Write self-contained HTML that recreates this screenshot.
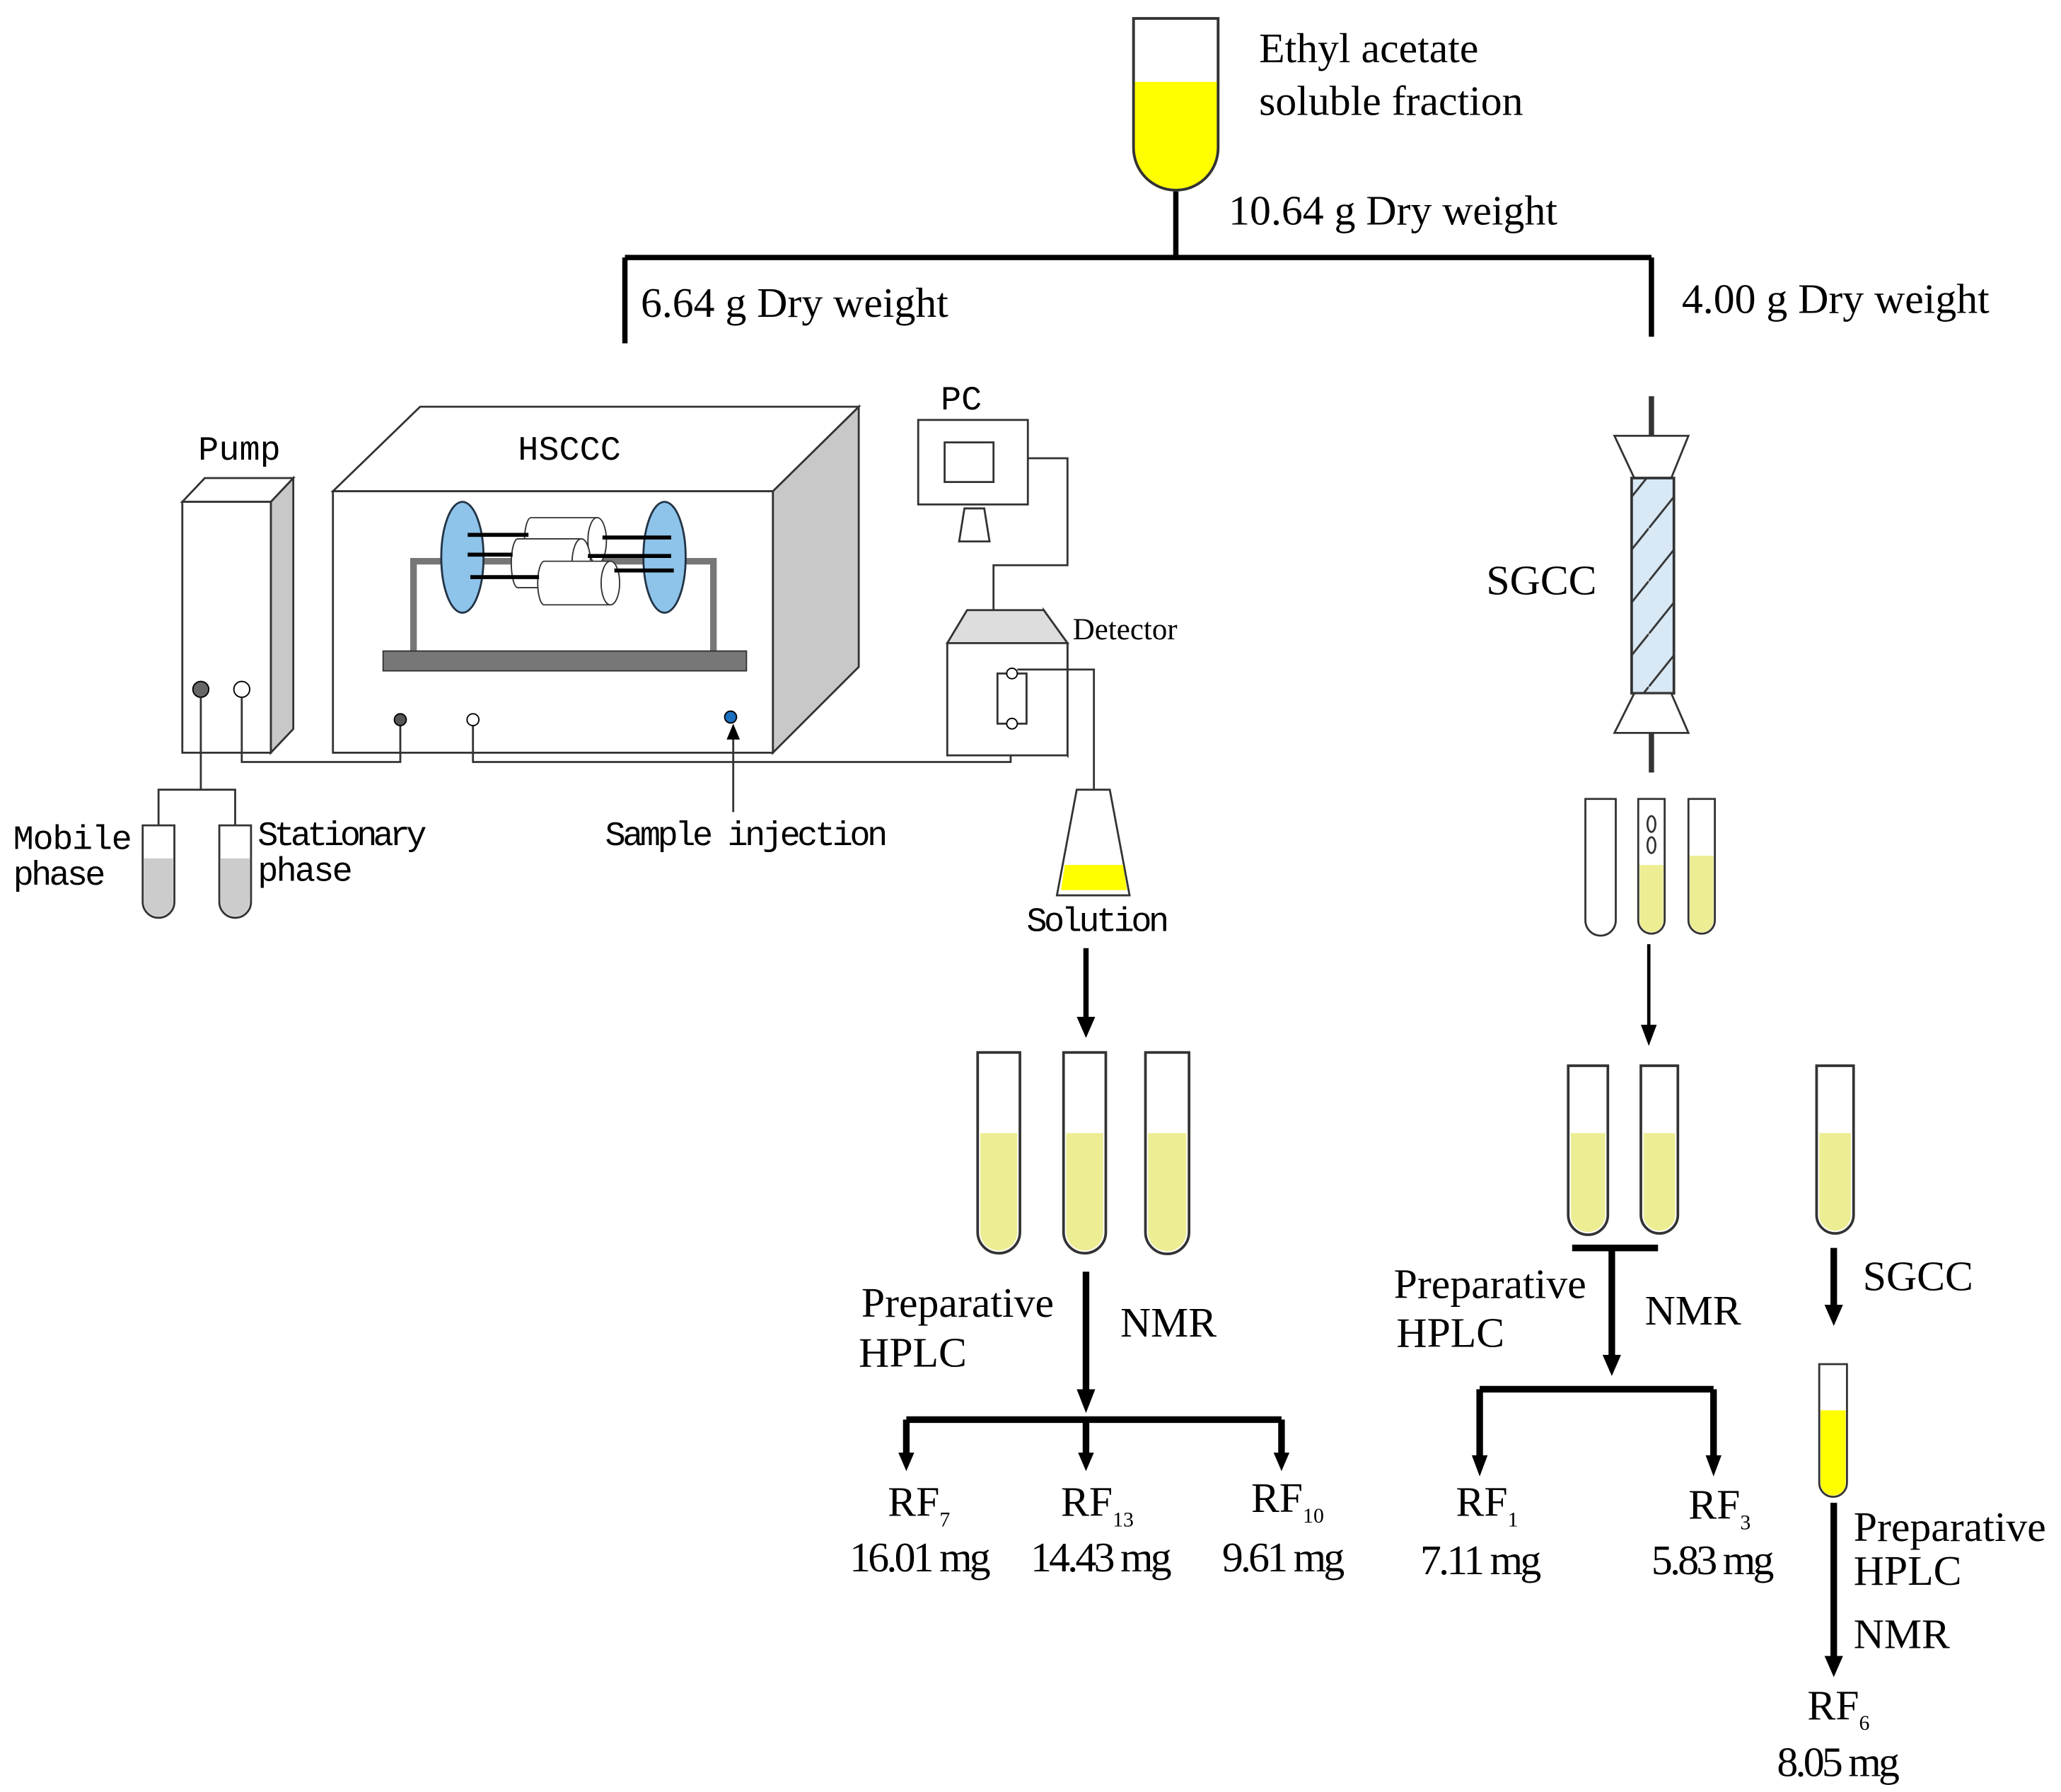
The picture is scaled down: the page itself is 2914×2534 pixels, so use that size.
<!DOCTYPE html>
<html><head><meta charset="utf-8"><style>
html,body{margin:0;padding:0;background:#fff;}
svg{display:block;}
text{font-family:"Liberation Serif",serif;fill:#000;}
.m{font-family:"Liberation Mono",monospace;}
</style></head><body>
<svg width="2914" height="2534" viewBox="0 0 1560 1357" preserveAspectRatio="none" xmlns="http://www.w3.org/2000/svg">
<defs>
<pattern id="hatch" width="32" height="40" patternUnits="userSpaceOnUse"><path d="M0,40 L32,0" stroke="#333" stroke-width="1.5"/></pattern>
</defs>

<path d="M858,14 H922 V112 A32,32 0 0 1 858,112 Z" fill="#fff" stroke="#333" stroke-width="2"/>
<path d="M859,62 H921 V112 A31,31 0 0 1 859,112 Z" fill="#ffff00"/>
<path d="M858,14 H922 V112 A32,32 0 0 1 858,112 Z" fill="none" stroke="#333" stroke-width="2"/>
<text x="953" y="47" font-size="32">Ethyl acetate</text>
<text x="953" y="87" font-size="32">soluble fraction</text>
<text x="930" y="170" font-size="32">10.64 g Dry weight</text>
<path d="M890,145 V195 M473,195 H1250 M473,195 V260 M1250,195 V255" stroke="#000" stroke-width="4" fill="none"/>
<text x="485" y="240" font-size="32">6.64 g Dry weight</text>
<text x="1273" y="237" font-size="32">4.00 g Dry weight</text>

<path d="M205,380 L222,362 V552 L205,570 Z" fill="#c8c8c8" stroke="#333" stroke-width="1.5"/>
<path d="M138,380 L155,362 H222 L205,380 Z" fill="#fff" stroke="#333" stroke-width="1.5"/>
<rect x="138" y="380" width="67" height="190" fill="#fff" stroke="#333" stroke-width="1.5"/>
<circle cx="152" cy="522" r="6" fill="#666" stroke="#000"/>
<circle cx="183" cy="522" r="6" fill="#fff" stroke="#000"/>
<text x="150" y="348" font-size="26" class="m">Pump</text>

<path d="M585,372 L650,308 V505 L585,570 Z" fill="#c8c8c8" stroke="#333" stroke-width="1.5"/>
<path d="M252,372 L318,308 H650 L585,372 Z" fill="#fff" stroke="#333" stroke-width="1.5"/>
<rect x="252" y="372" width="333" height="198" fill="#fff" stroke="#333" stroke-width="1.5"/>
<text x="392" y="348" font-size="26" class="m">HSCCC</text>
<path d="M313,493 V425 H540 V493" fill="none" stroke="#777" stroke-width="5"/>
<rect x="290" y="493" width="275" height="15" fill="#777" stroke="#333"/>
<ellipse cx="350" cy="422" rx="16" ry="42" fill="#8ec3ea" stroke="#234" stroke-width="1.5"/>
<ellipse cx="503" cy="422" rx="16" ry="42" fill="#8ec3ea" stroke="#234" stroke-width="1.5"/>
<g fill="#fff" stroke="#333" stroke-width="1">
<path d="M402,392 H452 V427 H402 A5,17.5 0 0 1 402,392 Z"/><ellipse cx="452" cy="409.5" rx="7" ry="17.5"/>
<path d="M392,408 H440 V445 H392 A5,18.5 0 0 1 392,408 Z"/><ellipse cx="440" cy="426.5" rx="7" ry="18.5"/>
<path d="M412,425 H462 V458 H412 A5,16.5 0 0 1 412,425 Z"/><ellipse cx="462" cy="441.5" rx="7" ry="16.5"/>
</g>
<path d="M354,405 H400 M354,420 H388 M356,437 H408 M456,407 H508 M445,421 H508 M465,432 H510" stroke="#000" stroke-width="3"/>
<circle cx="303" cy="545" r="4.5" fill="#555" stroke="#000"/>
<circle cx="358" cy="545" r="4.5" fill="#fff" stroke="#000"/>
<circle cx="553" cy="543" r="4.5" fill="#1a6fc0" stroke="#000"/>

<path d="M152,528 V598 M120,625 V598 H178 V625 M183,528 V577 H303 V550 M358,550 V577 H765 V550" fill="none" stroke="#333" stroke-width="1.5"/>
<path d="M555,615 V558" stroke="#333" stroke-width="1.5"/>
<path d="M550,560 L555,548 L560,560 Z" fill="#000"/>
<text x="458" y="640" font-size="26" class="m" textLength="214">Sample injection</text>

<path d="M108,625 H132 V683 A12,12 0 0 1 108,683 Z" fill="#fff" stroke="#333" stroke-width="1.5"/>
<path d="M109,650 H131 V683 A11,11 0 0 1 109,683 Z" fill="#ccc"/>
<path d="M166,625 H190 V683 A12,12 0 0 1 166,683 Z" fill="#fff" stroke="#333" stroke-width="1.5"/>
<path d="M167,650 H189 V683 A11,11 0 0 1 167,683 Z" fill="#ccc"/>
<text x="10" y="643" font-size="26" class="m" textLength="90">Mobile</text>
<text x="10" y="670" font-size="26" class="m" textLength="70">phase</text>
<text x="195" y="640" font-size="26" class="m" textLength="128">Stationary</text>
<text x="195" y="667" font-size="26" class="m" textLength="72">phase</text>

<text x="712" y="310" font-size="26" class="m">PC</text>
<rect x="695" y="318" width="83" height="64" fill="#fff" stroke="#333" stroke-width="1.5"/>
<rect x="715" y="335" width="37" height="30" fill="#fff" stroke="#333" stroke-width="1.5"/>
<path d="M730,385 H745 L749,410 H726 Z" fill="#fff" stroke="#333" stroke-width="1.5"/>
<path d="M778,347 H808 V428 H752 V462" fill="none" stroke="#333" stroke-width="1.5"/>

<path d="M790,462 L808,487 V572 L790,548 Z" fill="#c8c8c8" stroke="#333" stroke-width="1.5"/>
<path d="M717,487 L732,462 H790 L808,487 Z" fill="#ddd" stroke="#333" stroke-width="1.5"/>
<rect x="717" y="487" width="91" height="85" fill="#fff" stroke="#333" stroke-width="1.5"/>
<rect x="755" y="510" width="22" height="38" fill="#fff" stroke="#333" stroke-width="1.5"/>
<circle cx="766" cy="510" r="4" fill="#fff" stroke="#000"/>
<circle cx="766" cy="548" r="4" fill="#fff" stroke="#000"/>
<text x="812" y="484" font-size="23">Detector</text>
<path d="M770,507 H828 V600" fill="none" stroke="#333" stroke-width="1.5"/>

<path d="M815,598 H840 L855,678 H800 Z" fill="#fff" stroke="#333" stroke-width="1.5"/>
<path d="M806,655 H850 L853,674 H803 Z" fill="#ffff00"/>
<text x="777" y="705" font-size="26" class="m" textLength="108">Solution</text>
<path d="M822,718 V772" stroke="#000" stroke-width="4"/>
<path d="M815,770 H829 L822,786 Z" fill="#000"/>

<g stroke="#333" stroke-width="2">
<path d="M740,797 H772 V933 A16,16 0 0 1 740,933 Z" fill="#fff"/>
<path d="M742,858 H770 V933 A14,14 0 0 1 742,933 Z" fill="#eded94" stroke="none"/>
<path d="M805,797 H837 V933 A16,16 0 0 1 805,933 Z" fill="#fff"/>
<path d="M807,858 H835 V933 A14,14 0 0 1 807,933 Z" fill="#eded94" stroke="none"/>
<path d="M867,797 H900 V933 A16,16 0 0 1 867,933 Z" fill="#fff"/>
<path d="M869,858 H898 V933 A14,14 0 0 1 869,933 Z" fill="#eded94" stroke="none"/>
</g>
<text x="652" y="997" font-size="32">Preparative</text>
<text x="650" y="1035" font-size="32">HPLC</text>
<text x="848" y="1012" font-size="32">NMR</text>
<path d="M822,963 V1055" stroke="#000" stroke-width="5"/>
<path d="M815,1052 H829 L822,1070 Z" fill="#000"/>
<path d="M686,1075 H970 M686,1075 V1104 M822,1075 V1104 M970,1075 V1104" stroke="#000" stroke-width="5" fill="none"/>
<path d="M680,1100 H692 L686,1114 Z M816,1100 H828 L822,1114 Z M964,1100 H976 L970,1114 Z" fill="#000"/>
<text x="672" y="1148" font-size="32">RF<tspan font-size="16" dy="8">7</tspan></text>
<text x="643" y="1190" font-size="32" letter-spacing="-2">16.01 mg</text>
<text x="803" y="1148" font-size="32">RF<tspan font-size="16" dy="8">13</tspan></text>
<text x="780" y="1190" font-size="32" letter-spacing="-2">14.43 mg</text>
<text x="947" y="1145" font-size="32">RF<tspan font-size="16" dy="8">10</tspan></text>
<text x="925" y="1190" font-size="32" letter-spacing="-2">9.61 mg</text>

<path d="M1250,300 V330 M1250,555 V585" stroke="#333" stroke-width="4"/>
<path d="M1222,330 H1278 L1265,362 H1237 Z" fill="#fff" stroke="#333" stroke-width="1.5"/>
<rect x="1235" y="362" width="32" height="163" fill="#d8e8f5"/>
<rect x="1235" y="362" width="32" height="163" fill="url(#hatch)"/>
<rect x="1235" y="362" width="32" height="163" fill="none" stroke="#333" stroke-width="2"/>
<path d="M1237,525 H1265 L1278,555 H1222 Z" fill="#fff" stroke="#333" stroke-width="1.5"/>
<text x="1125" y="450" font-size="32">SGCC</text>

<g stroke="#333" stroke-width="1.5">
<path d="M1200,605 H1223 V697 A11.5,11.5 0 0 1 1200,697 Z" fill="#fff"/>
<path d="M1240,605 H1260 V697 A10,10 0 0 1 1240,697 Z" fill="#fff"/>
<path d="M1241,655 H1259 V697 A9,9 0 0 1 1241,697 Z" fill="#eded94" stroke="none"/>
<ellipse cx="1250" cy="624" rx="3" ry="6" fill="#fff"/>
<ellipse cx="1250" cy="640" rx="3" ry="6" fill="#fff"/>
<path d="M1278,605 H1298 V697 A10,10 0 0 1 1278,697 Z" fill="#fff"/>
<path d="M1279,648 H1297 V697 A9,9 0 0 1 1279,697 Z" fill="#eded94" stroke="none"/>
</g>
<path d="M1248,715 V778" stroke="#000" stroke-width="2.5"/>
<path d="M1242,776 H1254 L1248,792 Z" fill="#000"/>

<g stroke="#333" stroke-width="2">
<path d="M1187,807 H1217 V920 A15,15 0 0 1 1187,920 Z" fill="#fff"/>
<path d="M1189,858 H1215 V920 A13,13 0 0 1 1189,920 Z" fill="#eded94" stroke="none"/>
<path d="M1242,807 H1270 V920 A14,14 0 0 1 1242,920 Z" fill="#fff"/>
<path d="M1244,858 H1268 V920 A12,12 0 0 1 1244,920 Z" fill="#eded94" stroke="none"/>
<path d="M1375,807 H1403 V920 A14,14 0 0 1 1375,920 Z" fill="#fff"/>
<path d="M1377,858 H1401 V920 A12,12 0 0 1 1377,920 Z" fill="#eded94" stroke="none"/>
</g>
<path d="M1190,945 H1255 M1220,945 V1030" stroke="#000" stroke-width="5" fill="none"/>
<path d="M1213,1026 H1227 L1220,1042 Z" fill="#000"/>
<text x="1055" y="983" font-size="32">Preparative</text>
<text x="1057" y="1020" font-size="32">HPLC</text>
<text x="1245" y="1003" font-size="32">NMR</text>
<path d="M1120,1052 H1297 M1120,1052 V1106 M1297,1052 V1106" stroke="#000" stroke-width="5" fill="none"/>
<path d="M1114,1102 H1126 L1120,1118 Z M1291,1102 H1303 L1297,1118 Z" fill="#000"/>
<text x="1102" y="1148" font-size="32">RF<tspan font-size="16" dy="8">1</tspan></text>
<text x="1075" y="1192" font-size="32" letter-spacing="-2">7.11 mg</text>
<text x="1278" y="1150" font-size="32">RF<tspan font-size="16" dy="8">3</tspan></text>
<text x="1250" y="1192" font-size="32" letter-spacing="-2">5.83 mg</text>

<path d="M1388,945 V990" stroke="#000" stroke-width="5"/>
<path d="M1381,988 H1395 L1388,1004 Z" fill="#000"/>
<text x="1410" y="977" font-size="32">SGCC</text>
<path d="M1377,1033 H1398 V1123 A10.5,10.5 0 0 1 1377,1123 Z" fill="#fff" stroke="#333" stroke-width="1.5"/>
<path d="M1378,1068 H1397 V1123 A9.5,9.5 0 0 1 1378,1123 Z" fill="#ffff00"/>
<path d="M1388,1138 V1256" stroke="#000" stroke-width="5"/>
<path d="M1381,1254 H1395 L1388,1270 Z" fill="#000"/>
<text x="1403" y="1167" font-size="32">Preparative</text>
<text x="1403" y="1200" font-size="32">HPLC</text>
<text x="1403" y="1248" font-size="32">NMR</text>
<text x="1368" y="1302" font-size="32">RF<tspan font-size="16" dy="8">6</tspan></text>
<text x="1345" y="1345" font-size="32" letter-spacing="-2">8.05 mg</text>
</svg>
</body></html>
